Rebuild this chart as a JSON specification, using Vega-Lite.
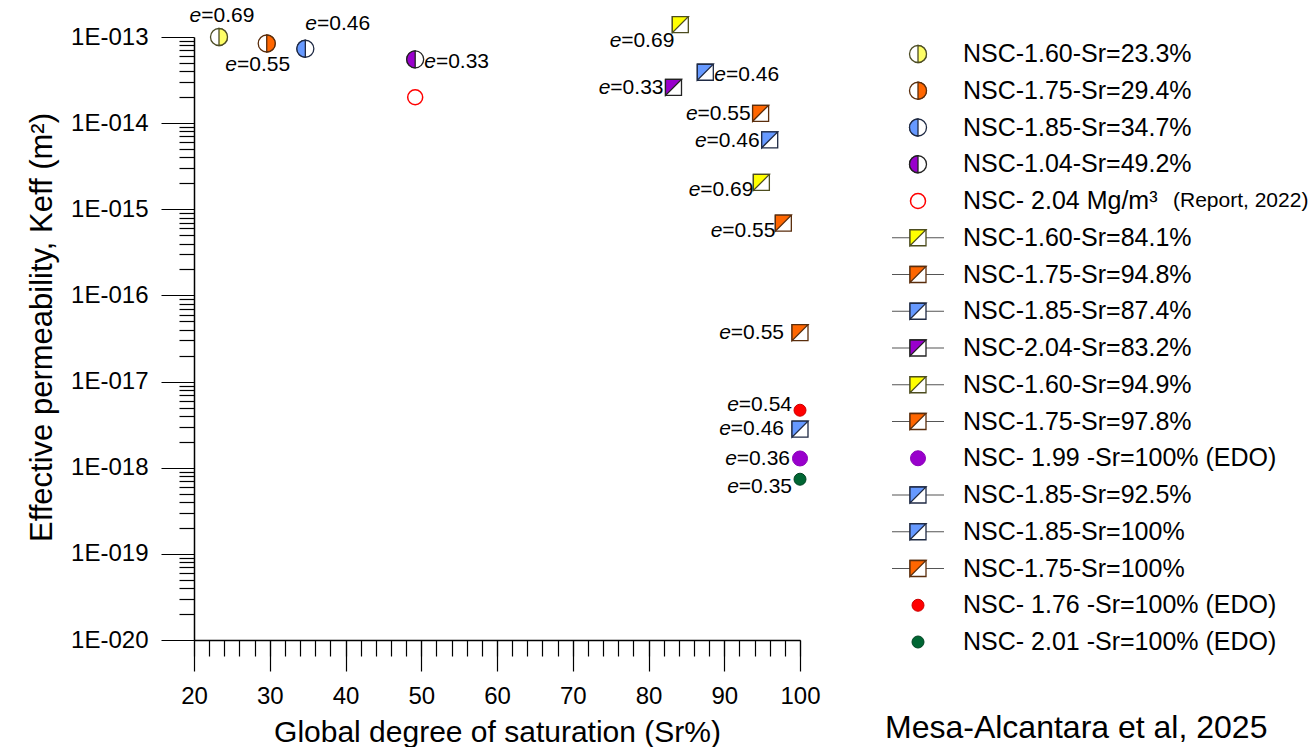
{
 "$schema": "https://vega.github.io/schema/vega-lite/v6.json",
 "background": "white",
 "padding": {"left": 26, "top": 5, "right": 0, "bottom": 0},
 "spacing": 57,
 "config": {"view": {"stroke": null}, "font": "Liberation Sans"},
 "datasets": {
  "pts": [
   {"series": "NSC-1.60-Sr=23.3%", "label": "NSC-1.60-Sr=23.3%", "note": "", "sr": 23.3, "k": 1.0e-13, "e": "=0.69", "kind": "R", "pos": "above"},
   {"series": "NSC-1.75-Sr=29.4%", "label": "NSC-1.75-Sr=29.4%", "note": "", "sr": 29.6, "k": 8.4e-14, "e": "=0.55", "kind": "R", "pos": "below"},
   {"series": "NSC-1.85-Sr=34.7%", "label": "NSC-1.85-Sr=34.7%", "note": "", "sr": 34.7, "k": 7.3e-14, "e": "=0.46", "kind": "L", "pos": "upright"},
   {"series": "NSC-1.04-Sr=49.2%", "label": "NSC-1.04-Sr=49.2%", "note": "", "sr": 49.2, "k": 5.5e-14, "e": "=0.33", "kind": "L", "pos": "right"},
   {"series": "NSC- 2.04 Mg/m³ (Report, 2022)", "label": "NSC- 2.04 Mg/m³", "note": "(Report, 2022)", "sr": 49.2, "k": 2.0e-14, "e": "", "kind": "open", "pos": "none"},
   {"series": "NSC-1.60-Sr=84.1%", "label": "NSC-1.60-Sr=84.1%", "note": "", "sr": 84.2, "k": 1.39e-13, "e": "=0.69", "kind": "sq", "pos": "leftbelow"},
   {"series": "NSC-1.75-Sr=94.8%", "label": "NSC-1.75-Sr=94.8%", "note": "", "sr": 94.8, "k": 1.3e-14, "e": "=0.55", "kind": "sq", "pos": "left"},
   {"series": "NSC-1.85-Sr=87.4%", "label": "NSC-1.85-Sr=87.4%", "note": "", "sr": 87.5, "k": 3.9e-14, "e": "=0.46", "kind": "sq", "pos": "right"},
   {"series": "NSC-2.04-Sr=83.2%", "label": "NSC-2.04-Sr=83.2%", "note": "", "sr": 83.3, "k": 2.6e-14, "e": "=0.33", "kind": "sq", "pos": "left"},
   {"series": "NSC-1.60-Sr=94.9%", "label": "NSC-1.60-Sr=94.9%", "note": "", "sr": 94.9, "k": 2.05e-15, "e": "=0.69", "kind": "sq", "pos": "lowleft"},
   {"series": "NSC-1.75-Sr=97.8%", "label": "NSC-1.75-Sr=97.8%", "note": "", "sr": 97.8, "k": 6.9e-16, "e": "=0.55", "kind": "sq", "pos": "lowleft"},
   {"series": "NSC- 1.99 -Sr=100% (EDO)", "label": "NSC- 1.99 -Sr=100% (EDO)", "note": "", "sr": 100, "k": 1.28e-18, "e": "=0.36", "kind": "dot", "pos": "left"},
   {"series": "NSC-1.85-Sr=92.5%", "label": "NSC-1.85-Sr=92.5%", "note": "", "sr": 96.0, "k": 6.4e-15, "e": "=0.46", "kind": "sq", "pos": "left"},
   {"series": "NSC-1.85-Sr=100%", "label": "NSC-1.85-Sr=100%", "note": "", "sr": 100, "k": 2.8e-18, "e": "=0.46", "kind": "sq", "pos": "leftfar"},
   {"series": "NSC-1.75-Sr=100%", "label": "NSC-1.75-Sr=100%", "note": "", "sr": 100, "k": 3.7e-17, "e": "=0.55", "kind": "sq", "pos": "leftfar"},
   {"series": "NSC- 1.76 -Sr=100% (EDO)", "label": "NSC- 1.76 -Sr=100% (EDO)", "note": "", "sr": 100, "k": 4.65e-18, "e": "=0.54", "kind": "dot", "pos": "highleft"},
   {"series": "NSC- 2.01 -Sr=100% (EDO)", "label": "NSC- 2.01 -Sr=100% (EDO)", "note": "", "sr": 100, "k": 7.35e-19, "e": "=0.35", "kind": "dot", "pos": "lowleft"}
  ]
 },
 "hconcat": [
  {
   "width": 606,
   "height": 603,
   "data": {"name": "pts"},
   "resolve": {"axis": {"x": "independent", "y": "independent"}},
   "layer": [
    {
     "transform": [{"filter": "datum.kind === 'L' || datum.kind === 'R'"}],
     "mark": {"type": "point", "filled": true, "fill": "white", "shape": "circle", "size": 289, "strokeWidth": 1.3, "opacity": 1},
     "encoding": {
      "x": {"field": "sr", "type": "quantitative", "scale": {"domain": [20, 100], "nice": false, "zero": false},
       "axis": {"orient": "bottom", "values": [20, 30, 40, 50, 60, 70, 80, 90, 100], "tickSize": 31, "tickWidth": 1.2, "tickColor": "black", "domainColor": "black", "domainWidth": 1.5, "labelFontSize": 24, "labelColor": "black", "labelPadding": 13, "labelFont": "Liberation Sans", "labelOverlap": false, "labelFlush": false, "grid": false, "title": "Global degree of saturation (Sr%)", "titleFont": "Liberation Sans", "titleFontSize": 30, "titleFontWeight": "normal", "titleColor": "black", "titlePadding": 9}},
      "y": {"field": "k", "type": "quantitative", "scale": {"type": "log", "domain": [1e-20, 1e-13], "nice": false},
       "axis": {"orient": "left", "values": [1e-20, 1e-19, 1e-18, 1e-17, 1e-16, 1e-15, 1e-14, 1e-13], "labelExpr": "'1E-0' + (-round(log(datum.value)/LN10))", "tickSize": 33, "tickWidth": 1.2, "tickColor": "black", "domainColor": "black", "domainWidth": 1.5, "labelFontSize": 24, "labelColor": "black", "labelPadding": 13, "labelFont": "Liberation Sans", "labelOverlap": false, "labelFlush": false, "grid": false, "title": "Effective permeability, Keff (m²)", "titleFont": "Liberation Sans", "titleFontSize": 31, "titleFontWeight": "normal", "titleColor": "black", "titlePadding": 12, "titleY": 290}},
      "stroke": {"field": "series", "type": "nominal", "legend": null, "scale": {"domain": ["NSC-1.60-Sr=23.3%", "NSC-1.75-Sr=29.4%", "NSC-1.85-Sr=34.7%", "NSC-1.04-Sr=49.2%", "NSC- 2.04 Mg/m³ (Report, 2022)", "NSC-1.60-Sr=84.1%", "NSC-1.75-Sr=94.8%", "NSC-1.85-Sr=87.4%", "NSC-2.04-Sr=83.2%", "NSC-1.60-Sr=94.9%", "NSC-1.75-Sr=97.8%", "NSC- 1.99 -Sr=100% (EDO)", "NSC-1.85-Sr=92.5%", "NSC-1.85-Sr=100%", "NSC-1.75-Sr=100%", "NSC- 1.76 -Sr=100% (EDO)", "NSC- 2.01 -Sr=100% (EDO)"], "range": ["#4d4d26", "#5a2d0c", "#1f2a44", "#222222", "#ff0000", "#4d4d1f", "#5a2d0c", "#1f2a44", "#222222", "#4d4d1f", "#5a2d0c", "#8a00b8", "#1f2a44", "#1f2a44", "#5a2d0c", "#cc0000", "#004422"]}}
     }
    },
    {
     "transform": [{"filter": "datum.kind === 'sq'"}],
     "mark": {"type": "point", "filled": true, "fill": "white", "shape": "square", "size": 256, "strokeWidth": 1.3, "opacity": 1},
     "encoding": {
      "x": {"field": "sr", "type": "quantitative", "scale": {"domain": [20, 100], "nice": false, "zero": false},
       "axis": {"orient": "bottom", "values": [20, 22, 24, 26, 28, 30, 32, 34, 36, 38, 40, 42, 44, 46, 48, 50, 52, 54, 56, 58, 60, 62, 64, 66, 68, 70, 72, 74, 76, 78, 80, 82, 84, 86, 88, 90, 92, 94, 96, 98, 100], "tickSize": 16, "tickWidth": 1.2, "tickColor": "black", "labels": false, "domain": false, "grid": false, "title": null}},
      "y": {"field": "k", "type": "quantitative", "scale": {"type": "log", "domain": [1e-20, 1e-13], "nice": false},
       "axis": {"orient": "left", "values": [2e-20, 3e-20, 4e-20, 5e-20, 6e-20, 7e-20, 8e-20, 9e-20, 2e-19, 3e-19, 4e-19, 5e-19, 6e-19, 7e-19, 8e-19, 9e-19, 2e-18, 3e-18, 4e-18, 5e-18, 6e-18, 7e-18, 8e-18, 9e-18, 2e-17, 3e-17, 4e-17, 5e-17, 6e-17, 7e-17, 8e-17, 9e-17, 2e-16, 3e-16, 4e-16, 5e-16, 6e-16, 7e-16, 8e-16, 9e-16, 2e-15, 3e-15, 4e-15, 5e-15, 6e-15, 7e-15, 8e-15, 9e-15, 2e-14, 3e-14, 4e-14, 5e-14, 6e-14, 7e-14, 8e-14, 9e-14], "tickSize": 15, "tickWidth": 1.2, "tickColor": "black", "labels": false, "domain": false, "grid": false, "title": null}},
      "stroke": {"field": "series", "type": "nominal", "legend": null, "scale": {"domain": ["NSC-1.60-Sr=23.3%", "NSC-1.75-Sr=29.4%", "NSC-1.85-Sr=34.7%", "NSC-1.04-Sr=49.2%", "NSC- 2.04 Mg/m³ (Report, 2022)", "NSC-1.60-Sr=84.1%", "NSC-1.75-Sr=94.8%", "NSC-1.85-Sr=87.4%", "NSC-2.04-Sr=83.2%", "NSC-1.60-Sr=94.9%", "NSC-1.75-Sr=97.8%", "NSC- 1.99 -Sr=100% (EDO)", "NSC-1.85-Sr=92.5%", "NSC-1.85-Sr=100%", "NSC-1.75-Sr=100%", "NSC- 1.76 -Sr=100% (EDO)", "NSC- 2.01 -Sr=100% (EDO)"], "range": ["#4d4d26", "#5a2d0c", "#1f2a44", "#222222", "#ff0000", "#4d4d1f", "#5a2d0c", "#1f2a44", "#222222", "#4d4d1f", "#5a2d0c", "#8a00b8", "#1f2a44", "#1f2a44", "#5a2d0c", "#cc0000", "#004422"]}}
     }
    },
    {
     "transform": [{"filter": "datum.kind === 'L' || datum.kind === 'R'"}],
     "mark": {"type": "point", "filled": true, "size": 289, "strokeWidth": 1.3, "opacity": 1},
     "encoding": {
      "x": {"field": "sr", "type": "quantitative", "scale": {"domain": [20, 100], "nice": false, "zero": false}, "axis": null},
      "y": {"field": "k", "type": "quantitative", "scale": {"type": "log", "domain": [1e-20, 1e-13], "nice": false}, "axis": null},
      "shape": {"field": "kind", "type": "nominal", "legend": null, "scale": {"domain": ["L", "R"], "range": ["M 0 -1 A 1 1 0 0 0 0 1 Z", "M 0 -1 A 1 1 0 0 1 0 1 Z"]}},
      "fill": {"field": "series", "type": "nominal", "legend": null, "scale": {"domain": ["NSC-1.60-Sr=23.3%", "NSC-1.75-Sr=29.4%", "NSC-1.85-Sr=34.7%", "NSC-1.04-Sr=49.2%", "NSC- 2.04 Mg/m³ (Report, 2022)", "NSC-1.60-Sr=84.1%", "NSC-1.75-Sr=94.8%", "NSC-1.85-Sr=87.4%", "NSC-2.04-Sr=83.2%", "NSC-1.60-Sr=94.9%", "NSC-1.75-Sr=97.8%", "NSC- 1.99 -Sr=100% (EDO)", "NSC-1.85-Sr=92.5%", "NSC-1.85-Sr=100%", "NSC-1.75-Sr=100%", "NSC- 1.76 -Sr=100% (EDO)", "NSC- 2.01 -Sr=100% (EDO)"], "range": ["#ffff66", "#ff6600", "#6699ff", "#9900cc", "#ffffff", "#ffff00", "#ff6600", "#6699ff", "#9900cc", "#ffff00", "#ff6600", "#9900cc", "#6699ff", "#6699ff", "#ff6600", "#ff0000", "#006633"]}},
      "stroke": {"field": "series", "type": "nominal", "legend": null, "scale": {"domain": ["NSC-1.60-Sr=23.3%", "NSC-1.75-Sr=29.4%", "NSC-1.85-Sr=34.7%", "NSC-1.04-Sr=49.2%", "NSC- 2.04 Mg/m³ (Report, 2022)", "NSC-1.60-Sr=84.1%", "NSC-1.75-Sr=94.8%", "NSC-1.85-Sr=87.4%", "NSC-2.04-Sr=83.2%", "NSC-1.60-Sr=94.9%", "NSC-1.75-Sr=97.8%", "NSC- 1.99 -Sr=100% (EDO)", "NSC-1.85-Sr=92.5%", "NSC-1.85-Sr=100%", "NSC-1.75-Sr=100%", "NSC- 1.76 -Sr=100% (EDO)", "NSC- 2.01 -Sr=100% (EDO)"], "range": ["#4d4d26", "#5a2d0c", "#1f2a44", "#222222", "#ff0000", "#4d4d1f", "#5a2d0c", "#1f2a44", "#222222", "#4d4d1f", "#5a2d0c", "#8a00b8", "#1f2a44", "#1f2a44", "#5a2d0c", "#cc0000", "#004422"]}}
     }
    },
    {
     "transform": [{"filter": "datum.kind === 'sq'"}],
     "mark": {"type": "point", "filled": true, "size": 256, "strokeWidth": 1.3, "opacity": 1, "shape": "M -1 -1 L 1 -1 L -1 1 Z"},
     "encoding": {
      "x": {"field": "sr", "type": "quantitative", "scale": {"domain": [20, 100], "nice": false, "zero": false}, "axis": null},
      "y": {"field": "k", "type": "quantitative", "scale": {"type": "log", "domain": [1e-20, 1e-13], "nice": false}, "axis": null},
      "fill": {"field": "series", "type": "nominal", "legend": null, "scale": {"domain": ["NSC-1.60-Sr=23.3%", "NSC-1.75-Sr=29.4%", "NSC-1.85-Sr=34.7%", "NSC-1.04-Sr=49.2%", "NSC- 2.04 Mg/m³ (Report, 2022)", "NSC-1.60-Sr=84.1%", "NSC-1.75-Sr=94.8%", "NSC-1.85-Sr=87.4%", "NSC-2.04-Sr=83.2%", "NSC-1.60-Sr=94.9%", "NSC-1.75-Sr=97.8%", "NSC- 1.99 -Sr=100% (EDO)", "NSC-1.85-Sr=92.5%", "NSC-1.85-Sr=100%", "NSC-1.75-Sr=100%", "NSC- 1.76 -Sr=100% (EDO)", "NSC- 2.01 -Sr=100% (EDO)"], "range": ["#ffff66", "#ff6600", "#6699ff", "#9900cc", "#ffffff", "#ffff00", "#ff6600", "#6699ff", "#9900cc", "#ffff00", "#ff6600", "#9900cc", "#6699ff", "#6699ff", "#ff6600", "#ff0000", "#006633"]}},
      "stroke": {"field": "series", "type": "nominal", "legend": null, "scale": {"domain": ["NSC-1.60-Sr=23.3%", "NSC-1.75-Sr=29.4%", "NSC-1.85-Sr=34.7%", "NSC-1.04-Sr=49.2%", "NSC- 2.04 Mg/m³ (Report, 2022)", "NSC-1.60-Sr=84.1%", "NSC-1.75-Sr=94.8%", "NSC-1.85-Sr=87.4%", "NSC-2.04-Sr=83.2%", "NSC-1.60-Sr=94.9%", "NSC-1.75-Sr=97.8%", "NSC- 1.99 -Sr=100% (EDO)", "NSC-1.85-Sr=92.5%", "NSC-1.85-Sr=100%", "NSC-1.75-Sr=100%", "NSC- 1.76 -Sr=100% (EDO)", "NSC- 2.01 -Sr=100% (EDO)"], "range": ["#4d4d26", "#5a2d0c", "#1f2a44", "#222222", "#ff0000", "#4d4d1f", "#5a2d0c", "#1f2a44", "#222222", "#4d4d1f", "#5a2d0c", "#8a00b8", "#1f2a44", "#1f2a44", "#5a2d0c", "#cc0000", "#004422"]}}
     }
    },
    {
     "transform": [{"filter": "datum.kind === 'dot'"}],
     "mark": {"type": "point", "filled": true, "shape": "circle", "strokeWidth": 1, "opacity": 1},
     "encoding": {
      "x": {"field": "sr", "type": "quantitative", "scale": {"domain": [20, 100], "nice": false, "zero": false}, "axis": null},
      "y": {"field": "k", "type": "quantitative", "scale": {"type": "log", "domain": [1e-20, 1e-13], "nice": false}, "axis": null},
      "size": {"condition": {"test": "datum.series === 'NSC- 1.99 -Sr=100% (EDO)'", "value": 225}, "value": 144},
      "fill": {"field": "series", "type": "nominal", "legend": null, "scale": {"domain": ["NSC-1.60-Sr=23.3%", "NSC-1.75-Sr=29.4%", "NSC-1.85-Sr=34.7%", "NSC-1.04-Sr=49.2%", "NSC- 2.04 Mg/m³ (Report, 2022)", "NSC-1.60-Sr=84.1%", "NSC-1.75-Sr=94.8%", "NSC-1.85-Sr=87.4%", "NSC-2.04-Sr=83.2%", "NSC-1.60-Sr=94.9%", "NSC-1.75-Sr=97.8%", "NSC- 1.99 -Sr=100% (EDO)", "NSC-1.85-Sr=92.5%", "NSC-1.85-Sr=100%", "NSC-1.75-Sr=100%", "NSC- 1.76 -Sr=100% (EDO)", "NSC- 2.01 -Sr=100% (EDO)"], "range": ["#ffff66", "#ff6600", "#6699ff", "#9900cc", "#ffffff", "#ffff00", "#ff6600", "#6699ff", "#9900cc", "#ffff00", "#ff6600", "#9900cc", "#6699ff", "#6699ff", "#ff6600", "#ff0000", "#006633"]}},
      "stroke": {"field": "series", "type": "nominal", "legend": null, "scale": {"domain": ["NSC-1.60-Sr=23.3%", "NSC-1.75-Sr=29.4%", "NSC-1.85-Sr=34.7%", "NSC-1.04-Sr=49.2%", "NSC- 2.04 Mg/m³ (Report, 2022)", "NSC-1.60-Sr=84.1%", "NSC-1.75-Sr=94.8%", "NSC-1.85-Sr=87.4%", "NSC-2.04-Sr=83.2%", "NSC-1.60-Sr=94.9%", "NSC-1.75-Sr=97.8%", "NSC- 1.99 -Sr=100% (EDO)", "NSC-1.85-Sr=92.5%", "NSC-1.85-Sr=100%", "NSC-1.75-Sr=100%", "NSC- 1.76 -Sr=100% (EDO)", "NSC- 2.01 -Sr=100% (EDO)"], "range": ["#4d4d26", "#5a2d0c", "#1f2a44", "#222222", "#ff0000", "#4d4d1f", "#5a2d0c", "#1f2a44", "#222222", "#4d4d1f", "#5a2d0c", "#8a00b8", "#1f2a44", "#1f2a44", "#5a2d0c", "#cc0000", "#004422"]}}
     }
    },
    {
     "transform": [{"filter": "datum.kind === 'open'"}],
     "mark": {"type": "point", "filled": false, "shape": "circle", "size": 225, "strokeWidth": 1.5, "color": "#ff0000", "opacity": 1},
     "encoding": {
      "x": {"field": "sr", "type": "quantitative", "scale": {"domain": [20, 100], "nice": false, "zero": false}, "axis": null},
      "y": {"field": "k", "type": "quantitative", "scale": {"type": "log", "domain": [1e-20, 1e-13], "nice": false}, "axis": null}
     }
    },
    {"transform": [{"filter": "datum.pos === 'left'"}], "mark": {"type": "text", "align": "right", "baseline": "middle", "dx": -10, "dy": 1, "fontSize": 21, "font": "Liberation Sans", "color": "black"},
     "encoding": {"x": {"field": "sr", "type": "quantitative", "scale": {"domain": [20, 100], "nice": false, "zero": false}, "axis": null}, "y": {"field": "k", "type": "quantitative", "scale": {"type": "log", "domain": [1e-20, 1e-13], "nice": false}, "axis": null}, "text": {"field": "e"}}},
    {"transform": [{"filter": "datum.pos === 'left'"}], "mark": {"type": "text", "align": "right", "baseline": "middle", "dx": -63, "dy": 1, "fontSize": 21, "fontStyle": "italic", "font": "Liberation Sans", "color": "black", "text": "e"},
     "encoding": {"x": {"field": "sr", "type": "quantitative", "scale": {"domain": [20, 100], "nice": false, "zero": false}, "axis": null}, "y": {"field": "k", "type": "quantitative", "scale": {"type": "log", "domain": [1e-20, 1e-13], "nice": false}, "axis": null}}},
    {"transform": [{"filter": "datum.pos === 'lowleft'"}], "mark": {"type": "text", "align": "right", "baseline": "middle", "dx": -8, "dy": 8, "fontSize": 21, "font": "Liberation Sans", "color": "black"},
     "encoding": {"x": {"field": "sr", "type": "quantitative", "scale": {"domain": [20, 100], "nice": false, "zero": false}, "axis": null}, "y": {"field": "k", "type": "quantitative", "scale": {"type": "log", "domain": [1e-20, 1e-13], "nice": false}, "axis": null}, "text": {"field": "e"}}},
    {"transform": [{"filter": "datum.pos === 'lowleft'"}], "mark": {"type": "text", "align": "right", "baseline": "middle", "dx": -61, "dy": 8, "fontSize": 21, "fontStyle": "italic", "font": "Liberation Sans", "color": "black", "text": "e"},
     "encoding": {"x": {"field": "sr", "type": "quantitative", "scale": {"domain": [20, 100], "nice": false, "zero": false}, "axis": null}, "y": {"field": "k", "type": "quantitative", "scale": {"type": "log", "domain": [1e-20, 1e-13], "nice": false}, "axis": null}}},
    {"transform": [{"filter": "datum.pos === 'highleft'"}], "mark": {"type": "text", "align": "right", "baseline": "middle", "dx": -8, "dy": -5, "fontSize": 21, "font": "Liberation Sans", "color": "black"},
     "encoding": {"x": {"field": "sr", "type": "quantitative", "scale": {"domain": [20, 100], "nice": false, "zero": false}, "axis": null}, "y": {"field": "k", "type": "quantitative", "scale": {"type": "log", "domain": [1e-20, 1e-13], "nice": false}, "axis": null}, "text": {"field": "e"}}},
    {"transform": [{"filter": "datum.pos === 'highleft'"}], "mark": {"type": "text", "align": "right", "baseline": "middle", "dx": -61, "dy": -5, "fontSize": 21, "fontStyle": "italic", "font": "Liberation Sans", "color": "black", "text": "e"},
     "encoding": {"x": {"field": "sr", "type": "quantitative", "scale": {"domain": [20, 100], "nice": false, "zero": false}, "axis": null}, "y": {"field": "k", "type": "quantitative", "scale": {"type": "log", "domain": [1e-20, 1e-13], "nice": false}, "axis": null}}},
    {"transform": [{"filter": "datum.pos === 'leftfar'"}], "mark": {"type": "text", "align": "right", "baseline": "middle", "dx": -16, "dy": 0, "fontSize": 21, "font": "Liberation Sans", "color": "black"},
     "encoding": {"x": {"field": "sr", "type": "quantitative", "scale": {"domain": [20, 100], "nice": false, "zero": false}, "axis": null}, "y": {"field": "k", "type": "quantitative", "scale": {"type": "log", "domain": [1e-20, 1e-13], "nice": false}, "axis": null}, "text": {"field": "e"}}},
    {"transform": [{"filter": "datum.pos === 'leftfar'"}], "mark": {"type": "text", "align": "right", "baseline": "middle", "dx": -69, "dy": 0, "fontSize": 21, "fontStyle": "italic", "font": "Liberation Sans", "color": "black", "text": "e"},
     "encoding": {"x": {"field": "sr", "type": "quantitative", "scale": {"domain": [20, 100], "nice": false, "zero": false}, "axis": null}, "y": {"field": "k", "type": "quantitative", "scale": {"type": "log", "domain": [1e-20, 1e-13], "nice": false}, "axis": null}}},
    {"transform": [{"filter": "datum.pos === 'leftbelow'"}], "mark": {"type": "text", "align": "right", "baseline": "middle", "dx": -6, "dy": 16, "fontSize": 21, "font": "Liberation Sans", "color": "black"},
     "encoding": {"x": {"field": "sr", "type": "quantitative", "scale": {"domain": [20, 100], "nice": false, "zero": false}, "axis": null}, "y": {"field": "k", "type": "quantitative", "scale": {"type": "log", "domain": [1e-20, 1e-13], "nice": false}, "axis": null}, "text": {"field": "e"}}},
    {"transform": [{"filter": "datum.pos === 'leftbelow'"}], "mark": {"type": "text", "align": "right", "baseline": "middle", "dx": -59, "dy": 16, "fontSize": 21, "fontStyle": "italic", "font": "Liberation Sans", "color": "black", "text": "e"},
     "encoding": {"x": {"field": "sr", "type": "quantitative", "scale": {"domain": [20, 100], "nice": false, "zero": false}, "axis": null}, "y": {"field": "k", "type": "quantitative", "scale": {"type": "log", "domain": [1e-20, 1e-13], "nice": false}, "axis": null}}},
    {"transform": [{"filter": "datum.pos === 'right'"}], "mark": {"type": "text", "align": "left", "baseline": "middle", "dx": 9, "dy": 3, "fontSize": 21, "fontStyle": "italic", "font": "Liberation Sans", "color": "black", "text": "e"},
     "encoding": {"x": {"field": "sr", "type": "quantitative", "scale": {"domain": [20, 100], "nice": false, "zero": false}, "axis": null}, "y": {"field": "k", "type": "quantitative", "scale": {"type": "log", "domain": [1e-20, 1e-13], "nice": false}, "axis": null}}},
    {"transform": [{"filter": "datum.pos === 'right'"}], "mark": {"type": "text", "align": "left", "baseline": "middle", "dx": 20.7, "dy": 3, "fontSize": 21, "font": "Liberation Sans", "color": "black"},
     "encoding": {"x": {"field": "sr", "type": "quantitative", "scale": {"domain": [20, 100], "nice": false, "zero": false}, "axis": null}, "y": {"field": "k", "type": "quantitative", "scale": {"type": "log", "domain": [1e-20, 1e-13], "nice": false}, "axis": null}, "text": {"field": "e"}}},
    {"transform": [{"filter": "datum.pos === 'upright'"}], "mark": {"type": "text", "align": "left", "baseline": "middle", "dx": 0, "dy": -25, "fontSize": 21, "fontStyle": "italic", "font": "Liberation Sans", "color": "black", "text": "e"},
     "encoding": {"x": {"field": "sr", "type": "quantitative", "scale": {"domain": [20, 100], "nice": false, "zero": false}, "axis": null}, "y": {"field": "k", "type": "quantitative", "scale": {"type": "log", "domain": [1e-20, 1e-13], "nice": false}, "axis": null}}},
    {"transform": [{"filter": "datum.pos === 'upright'"}], "mark": {"type": "text", "align": "left", "baseline": "middle", "dx": 11.7, "dy": -25, "fontSize": 21, "font": "Liberation Sans", "color": "black"},
     "encoding": {"x": {"field": "sr", "type": "quantitative", "scale": {"domain": [20, 100], "nice": false, "zero": false}, "axis": null}, "y": {"field": "k", "type": "quantitative", "scale": {"type": "log", "domain": [1e-20, 1e-13], "nice": false}, "axis": null}, "text": {"field": "e"}}},
    {"transform": [{"filter": "datum.pos === 'above'"}], "mark": {"type": "text", "align": "left", "baseline": "middle", "dx": -29.4, "dy": -21, "fontSize": 21, "fontStyle": "italic", "font": "Liberation Sans", "color": "black", "text": "e"},
     "encoding": {"x": {"field": "sr", "type": "quantitative", "scale": {"domain": [20, 100], "nice": false, "zero": false}, "axis": null}, "y": {"field": "k", "type": "quantitative", "scale": {"type": "log", "domain": [1e-20, 1e-13], "nice": false}, "axis": null}}},
    {"transform": [{"filter": "datum.pos === 'above'"}], "mark": {"type": "text", "align": "left", "baseline": "middle", "dx": -17.7, "dy": -21, "fontSize": 21, "font": "Liberation Sans", "color": "black"},
     "encoding": {"x": {"field": "sr", "type": "quantitative", "scale": {"domain": [20, 100], "nice": false, "zero": false}, "axis": null}, "y": {"field": "k", "type": "quantitative", "scale": {"type": "log", "domain": [1e-20, 1e-13], "nice": false}, "axis": null}, "text": {"field": "e"}}},
    {"transform": [{"filter": "datum.pos === 'below'"}], "mark": {"type": "text", "align": "left", "baseline": "middle", "dx": -41.4, "dy": 21, "fontSize": 21, "fontStyle": "italic", "font": "Liberation Sans", "color": "black", "text": "e"},
     "encoding": {"x": {"field": "sr", "type": "quantitative", "scale": {"domain": [20, 100], "nice": false, "zero": false}, "axis": null}, "y": {"field": "k", "type": "quantitative", "scale": {"type": "log", "domain": [1e-20, 1e-13], "nice": false}, "axis": null}}},
    {"transform": [{"filter": "datum.pos === 'below'"}], "mark": {"type": "text", "align": "left", "baseline": "middle", "dx": -29.7, "dy": 21, "fontSize": 21, "font": "Liberation Sans", "color": "black"},
     "encoding": {"x": {"field": "sr", "type": "quantitative", "scale": {"domain": [20, 100], "nice": false, "zero": false}, "axis": null}, "y": {"field": "k", "type": "quantitative", "scale": {"type": "log", "domain": [1e-20, 1e-13], "nice": false}, "axis": null}, "text": {"field": "e"}}}
   ]
  },
  {
   "width": 400,
   "height": 603,
   "data": {"name": "pts"},
   "title": {"text": "Mesa-Alcantara et al, 2025", "orient": "bottom", "anchor": "start", "fontSize": 32, "fontWeight": "normal", "font": "Liberation Sans", "color": "black", "offset": 58, "dx": 7},
   "encoding": {
    "y": {"field": "series", "type": "nominal", "axis": null, "scale": {"type": "point", "domain": ["NSC-1.60-Sr=23.3%", "NSC-1.75-Sr=29.4%", "NSC-1.85-Sr=34.7%", "NSC-1.04-Sr=49.2%", "NSC- 2.04 Mg/m³ (Report, 2022)", "NSC-1.60-Sr=84.1%", "NSC-1.75-Sr=94.8%", "NSC-1.85-Sr=87.4%", "NSC-2.04-Sr=83.2%", "NSC-1.60-Sr=94.9%", "NSC-1.75-Sr=97.8%", "NSC- 1.99 -Sr=100% (EDO)", "NSC-1.85-Sr=92.5%", "NSC-1.85-Sr=100%", "NSC-1.75-Sr=100%", "NSC- 1.76 -Sr=100% (EDO)", "NSC- 2.01 -Sr=100% (EDO)"], "range": [17, 605], "padding": 0}}
   },
   "layer": [
    {
     "transform": [{"filter": "datum.kind === 'sq'"}],
     "mark": {"type": "rule", "color": "#555555", "strokeWidth": 1.2},
     "encoding": {"x": {"datum": 1.4, "type": "quantitative", "scale": {"domain": [0, 40], "nice": false, "zero": false}, "axis": null}, "x2": {"datum": 6.6}}
    },
    {
     "transform": [{"filter": "datum.kind === 'L' || datum.kind === 'R'"}],
     "mark": {"type": "point", "filled": true, "fill": "white", "shape": "circle", "size": 289, "strokeWidth": 1.3, "opacity": 1},
     "encoding": {
      "x": {"datum": 4, "type": "quantitative", "scale": {"domain": [0, 40], "nice": false, "zero": false}, "axis": null},
      "stroke": {"field": "series", "type": "nominal", "legend": null, "scale": {"domain": ["NSC-1.60-Sr=23.3%", "NSC-1.75-Sr=29.4%", "NSC-1.85-Sr=34.7%", "NSC-1.04-Sr=49.2%", "NSC- 2.04 Mg/m³ (Report, 2022)", "NSC-1.60-Sr=84.1%", "NSC-1.75-Sr=94.8%", "NSC-1.85-Sr=87.4%", "NSC-2.04-Sr=83.2%", "NSC-1.60-Sr=94.9%", "NSC-1.75-Sr=97.8%", "NSC- 1.99 -Sr=100% (EDO)", "NSC-1.85-Sr=92.5%", "NSC-1.85-Sr=100%", "NSC-1.75-Sr=100%", "NSC- 1.76 -Sr=100% (EDO)", "NSC- 2.01 -Sr=100% (EDO)"], "range": ["#4d4d26", "#5a2d0c", "#1f2a44", "#222222", "#ff0000", "#4d4d1f", "#5a2d0c", "#1f2a44", "#222222", "#4d4d1f", "#5a2d0c", "#8a00b8", "#1f2a44", "#1f2a44", "#5a2d0c", "#cc0000", "#004422"]}}
     }
    },
    {
     "transform": [{"filter": "datum.kind === 'sq'"}],
     "mark": {"type": "point", "filled": true, "fill": "white", "shape": "square", "size": 256, "strokeWidth": 1.3, "opacity": 1},
     "encoding": {
      "x": {"datum": 4, "type": "quantitative", "scale": {"domain": [0, 40], "nice": false, "zero": false}, "axis": null},
      "stroke": {"field": "series", "type": "nominal", "legend": null, "scale": {"domain": ["NSC-1.60-Sr=23.3%", "NSC-1.75-Sr=29.4%", "NSC-1.85-Sr=34.7%", "NSC-1.04-Sr=49.2%", "NSC- 2.04 Mg/m³ (Report, 2022)", "NSC-1.60-Sr=84.1%", "NSC-1.75-Sr=94.8%", "NSC-1.85-Sr=87.4%", "NSC-2.04-Sr=83.2%", "NSC-1.60-Sr=94.9%", "NSC-1.75-Sr=97.8%", "NSC- 1.99 -Sr=100% (EDO)", "NSC-1.85-Sr=92.5%", "NSC-1.85-Sr=100%", "NSC-1.75-Sr=100%", "NSC- 1.76 -Sr=100% (EDO)", "NSC- 2.01 -Sr=100% (EDO)"], "range": ["#4d4d26", "#5a2d0c", "#1f2a44", "#222222", "#ff0000", "#4d4d1f", "#5a2d0c", "#1f2a44", "#222222", "#4d4d1f", "#5a2d0c", "#8a00b8", "#1f2a44", "#1f2a44", "#5a2d0c", "#cc0000", "#004422"]}}
     }
    },
    {
     "transform": [{"filter": "datum.kind === 'L' || datum.kind === 'R'"}],
     "mark": {"type": "point", "filled": true, "size": 289, "strokeWidth": 1.3, "opacity": 1},
     "encoding": {
      "x": {"datum": 4, "type": "quantitative", "scale": {"domain": [0, 40], "nice": false, "zero": false}, "axis": null},
      "shape": {"field": "kind", "type": "nominal", "legend": null, "scale": {"domain": ["L", "R"], "range": ["M 0 -1 A 1 1 0 0 0 0 1 Z", "M 0 -1 A 1 1 0 0 1 0 1 Z"]}},
      "fill": {"field": "series", "type": "nominal", "legend": null, "scale": {"domain": ["NSC-1.60-Sr=23.3%", "NSC-1.75-Sr=29.4%", "NSC-1.85-Sr=34.7%", "NSC-1.04-Sr=49.2%", "NSC- 2.04 Mg/m³ (Report, 2022)", "NSC-1.60-Sr=84.1%", "NSC-1.75-Sr=94.8%", "NSC-1.85-Sr=87.4%", "NSC-2.04-Sr=83.2%", "NSC-1.60-Sr=94.9%", "NSC-1.75-Sr=97.8%", "NSC- 1.99 -Sr=100% (EDO)", "NSC-1.85-Sr=92.5%", "NSC-1.85-Sr=100%", "NSC-1.75-Sr=100%", "NSC- 1.76 -Sr=100% (EDO)", "NSC- 2.01 -Sr=100% (EDO)"], "range": ["#ffff66", "#ff6600", "#6699ff", "#9900cc", "#ffffff", "#ffff00", "#ff6600", "#6699ff", "#9900cc", "#ffff00", "#ff6600", "#9900cc", "#6699ff", "#6699ff", "#ff6600", "#ff0000", "#006633"]}},
      "stroke": {"field": "series", "type": "nominal", "legend": null, "scale": {"domain": ["NSC-1.60-Sr=23.3%", "NSC-1.75-Sr=29.4%", "NSC-1.85-Sr=34.7%", "NSC-1.04-Sr=49.2%", "NSC- 2.04 Mg/m³ (Report, 2022)", "NSC-1.60-Sr=84.1%", "NSC-1.75-Sr=94.8%", "NSC-1.85-Sr=87.4%", "NSC-2.04-Sr=83.2%", "NSC-1.60-Sr=94.9%", "NSC-1.75-Sr=97.8%", "NSC- 1.99 -Sr=100% (EDO)", "NSC-1.85-Sr=92.5%", "NSC-1.85-Sr=100%", "NSC-1.75-Sr=100%", "NSC- 1.76 -Sr=100% (EDO)", "NSC- 2.01 -Sr=100% (EDO)"], "range": ["#4d4d26", "#5a2d0c", "#1f2a44", "#222222", "#ff0000", "#4d4d1f", "#5a2d0c", "#1f2a44", "#222222", "#4d4d1f", "#5a2d0c", "#8a00b8", "#1f2a44", "#1f2a44", "#5a2d0c", "#cc0000", "#004422"]}}
     }
    },
    {
     "transform": [{"filter": "datum.kind === 'sq'"}],
     "mark": {"type": "point", "filled": true, "size": 256, "strokeWidth": 1.3, "opacity": 1, "shape": "M -1 -1 L 1 -1 L -1 1 Z"},
     "encoding": {
      "x": {"datum": 4, "type": "quantitative", "scale": {"domain": [0, 40], "nice": false, "zero": false}, "axis": null},
      "fill": {"field": "series", "type": "nominal", "legend": null, "scale": {"domain": ["NSC-1.60-Sr=23.3%", "NSC-1.75-Sr=29.4%", "NSC-1.85-Sr=34.7%", "NSC-1.04-Sr=49.2%", "NSC- 2.04 Mg/m³ (Report, 2022)", "NSC-1.60-Sr=84.1%", "NSC-1.75-Sr=94.8%", "NSC-1.85-Sr=87.4%", "NSC-2.04-Sr=83.2%", "NSC-1.60-Sr=94.9%", "NSC-1.75-Sr=97.8%", "NSC- 1.99 -Sr=100% (EDO)", "NSC-1.85-Sr=92.5%", "NSC-1.85-Sr=100%", "NSC-1.75-Sr=100%", "NSC- 1.76 -Sr=100% (EDO)", "NSC- 2.01 -Sr=100% (EDO)"], "range": ["#ffff66", "#ff6600", "#6699ff", "#9900cc", "#ffffff", "#ffff00", "#ff6600", "#6699ff", "#9900cc", "#ffff00", "#ff6600", "#9900cc", "#6699ff", "#6699ff", "#ff6600", "#ff0000", "#006633"]}},
      "stroke": {"field": "series", "type": "nominal", "legend": null, "scale": {"domain": ["NSC-1.60-Sr=23.3%", "NSC-1.75-Sr=29.4%", "NSC-1.85-Sr=34.7%", "NSC-1.04-Sr=49.2%", "NSC- 2.04 Mg/m³ (Report, 2022)", "NSC-1.60-Sr=84.1%", "NSC-1.75-Sr=94.8%", "NSC-1.85-Sr=87.4%", "NSC-2.04-Sr=83.2%", "NSC-1.60-Sr=94.9%", "NSC-1.75-Sr=97.8%", "NSC- 1.99 -Sr=100% (EDO)", "NSC-1.85-Sr=92.5%", "NSC-1.85-Sr=100%", "NSC-1.75-Sr=100%", "NSC- 1.76 -Sr=100% (EDO)", "NSC- 2.01 -Sr=100% (EDO)"], "range": ["#4d4d26", "#5a2d0c", "#1f2a44", "#222222", "#ff0000", "#4d4d1f", "#5a2d0c", "#1f2a44", "#222222", "#4d4d1f", "#5a2d0c", "#8a00b8", "#1f2a44", "#1f2a44", "#5a2d0c", "#cc0000", "#004422"]}}
     }
    },
    {
     "transform": [{"filter": "datum.kind === 'dot'"}],
     "mark": {"type": "point", "filled": true, "shape": "circle", "strokeWidth": 1, "opacity": 1},
     "encoding": {
      "x": {"datum": 4, "type": "quantitative", "scale": {"domain": [0, 40], "nice": false, "zero": false}, "axis": null},
      "size": {"condition": {"test": "datum.series === 'NSC- 1.99 -Sr=100% (EDO)'", "value": 225}, "value": 144},
      "fill": {"field": "series", "type": "nominal", "legend": null, "scale": {"domain": ["NSC-1.60-Sr=23.3%", "NSC-1.75-Sr=29.4%", "NSC-1.85-Sr=34.7%", "NSC-1.04-Sr=49.2%", "NSC- 2.04 Mg/m³ (Report, 2022)", "NSC-1.60-Sr=84.1%", "NSC-1.75-Sr=94.8%", "NSC-1.85-Sr=87.4%", "NSC-2.04-Sr=83.2%", "NSC-1.60-Sr=94.9%", "NSC-1.75-Sr=97.8%", "NSC- 1.99 -Sr=100% (EDO)", "NSC-1.85-Sr=92.5%", "NSC-1.85-Sr=100%", "NSC-1.75-Sr=100%", "NSC- 1.76 -Sr=100% (EDO)", "NSC- 2.01 -Sr=100% (EDO)"], "range": ["#ffff66", "#ff6600", "#6699ff", "#9900cc", "#ffffff", "#ffff00", "#ff6600", "#6699ff", "#9900cc", "#ffff00", "#ff6600", "#9900cc", "#6699ff", "#6699ff", "#ff6600", "#ff0000", "#006633"]}},
      "stroke": {"field": "series", "type": "nominal", "legend": null, "scale": {"domain": ["NSC-1.60-Sr=23.3%", "NSC-1.75-Sr=29.4%", "NSC-1.85-Sr=34.7%", "NSC-1.04-Sr=49.2%", "NSC- 2.04 Mg/m³ (Report, 2022)", "NSC-1.60-Sr=84.1%", "NSC-1.75-Sr=94.8%", "NSC-1.85-Sr=87.4%", "NSC-2.04-Sr=83.2%", "NSC-1.60-Sr=94.9%", "NSC-1.75-Sr=97.8%", "NSC- 1.99 -Sr=100% (EDO)", "NSC-1.85-Sr=92.5%", "NSC-1.85-Sr=100%", "NSC-1.75-Sr=100%", "NSC- 1.76 -Sr=100% (EDO)", "NSC- 2.01 -Sr=100% (EDO)"], "range": ["#4d4d26", "#5a2d0c", "#1f2a44", "#222222", "#ff0000", "#4d4d1f", "#5a2d0c", "#1f2a44", "#222222", "#4d4d1f", "#5a2d0c", "#8a00b8", "#1f2a44", "#1f2a44", "#5a2d0c", "#cc0000", "#004422"]}}
     }
    },
    {
     "transform": [{"filter": "datum.kind === 'open'"}],
     "mark": {"type": "point", "filled": false, "shape": "circle", "size": 225, "strokeWidth": 1.5, "color": "#ff0000", "opacity": 1},
     "encoding": {"x": {"datum": 4, "type": "quantitative", "scale": {"domain": [0, 40], "nice": false, "zero": false}, "axis": null}}
    },
    {
     "mark": {"type": "text", "align": "left", "baseline": "middle", "fontSize": 25, "font": "Liberation Sans", "color": "black"},
     "encoding": {"x": {"datum": 8.5, "type": "quantitative", "scale": {"domain": [0, 40], "nice": false, "zero": false}, "axis": null}, "text": {"field": "label"}}
    },
    {
     "transform": [{"filter": "datum.note !== ''"}],
     "mark": {"type": "text", "align": "left", "baseline": "middle", "fontSize": 21, "font": "Liberation Sans", "color": "black"},
     "encoding": {"x": {"datum": 29.5, "type": "quantitative", "scale": {"domain": [0, 40], "nice": false, "zero": false}, "axis": null}, "text": {"field": "note"}}
    }
   ]
  }
 ]
}
